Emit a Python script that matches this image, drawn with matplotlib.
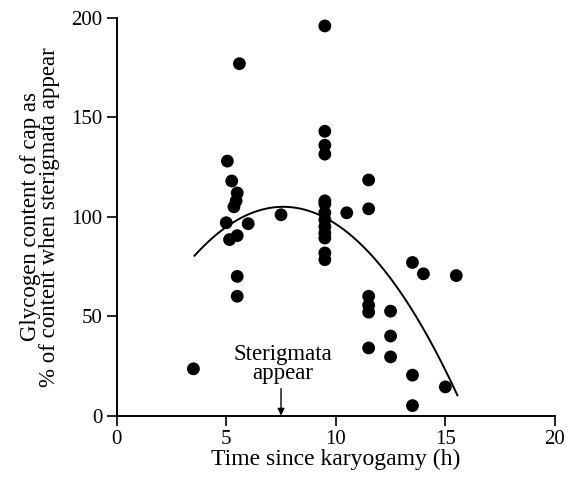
import numpy as np
import matplotlib
matplotlib.use("Agg")
import matplotlib.pyplot as plt

plt.rcParams['font.family'] = ['Liberation Serif', 'DejaVu Serif']

# Observed points: time since karyogamy (h) and glycogen content (%)
time_h = [3.5, 5.05, 5.25, 5.5, 5.45, 5.35, 5.0, 6.0, 5.5, 5.15, 5.5, 5.5, 5.6,
          7.5,
          9.5, 9.5, 9.5, 9.5, 9.5, 9.5, 9.5, 9.5, 9.5, 9.5, 9.5, 9.5, 9.5,
          10.5, 11.5, 11.5, 11.5, 11.5, 11.5, 11.5,
          12.5, 12.5, 12.5, 13.5, 14.0, 15.5, 13.5, 15.0, 13.5]
glycogen = [23.5, 128, 118, 112, 108, 105, 97, 96.5, 90.5, 88.5, 70, 60, 177,
            101,
            196, 143, 136, 131.5, 108, 106.5, 102, 98.5, 95, 91.8, 89.3, 81.8, 78.4,
            102, 118.5, 104, 60, 55.5, 52, 34,
            52.5, 40, 29.5, 77, 71.3, 70.4, 20.3, 14.4, 5]

# Fitted quadratic: y = a*(x - h)^2 + k over the plotted range
fit_a = -1.5
fit_h = 7.6
fit_k = 105
fit_range = [3.55, 15.55]

# Annotation
event_time = 7.5
event_label = "Sterigmata\nappear"

x_ticks = [0, 5, 10, 15, 20]
y_ticks = [0, 50, 100, 150, 200]

fig = plt.figure(figsize=(5.75, 4.86), dpi=100)
ax = fig.add_axes([0.203, 0.145, 0.762, 0.818])

xc = np.linspace(fit_range[0], fit_range[1], 200)
yc = fit_a * (xc - fit_h) ** 2 + fit_k
ax.plot(xc, yc, color='black', lw=1.4, zorder=2)

ax.scatter(time_h, glycogen, s=85, color='black', edgecolors='none', zorder=3, clip_on=False)

ax.annotate('', xy=(event_time, 0), xytext=(event_time, 13.5),
            arrowprops=dict(arrowstyle='-|>', color='black', lw=1.0,
                            mutation_scale=10, shrinkA=0, shrinkB=0))
ax.text(event_time + 0.1, 16, event_label, ha='center', va='bottom',
        fontsize=16.5, linespacing=0.85)

ax.set_xlim(0, 20)
ax.set_ylim(0, 200)
ax.set_xticks(x_ticks)
ax.set_yticks(y_ticks)
for s in ['top', 'right']:
    ax.spines[s].set_visible(False)
for s in ['left', 'bottom']:
    ax.spines[s].set_linewidth(1.4)
ax.tick_params(direction='out', length=7.5, width=1.2, labelsize=15, pad=3)

ax.set_xlabel('Time since karyogamy (h)', fontsize=17, labelpad=0)
ax.set_ylabel('Glycogen content of cap as\n% of content when sterigmata appear',
              fontsize=16.5, labelpad=8, linespacing=0.85)

fig.savefig('out.png', dpi=100)
